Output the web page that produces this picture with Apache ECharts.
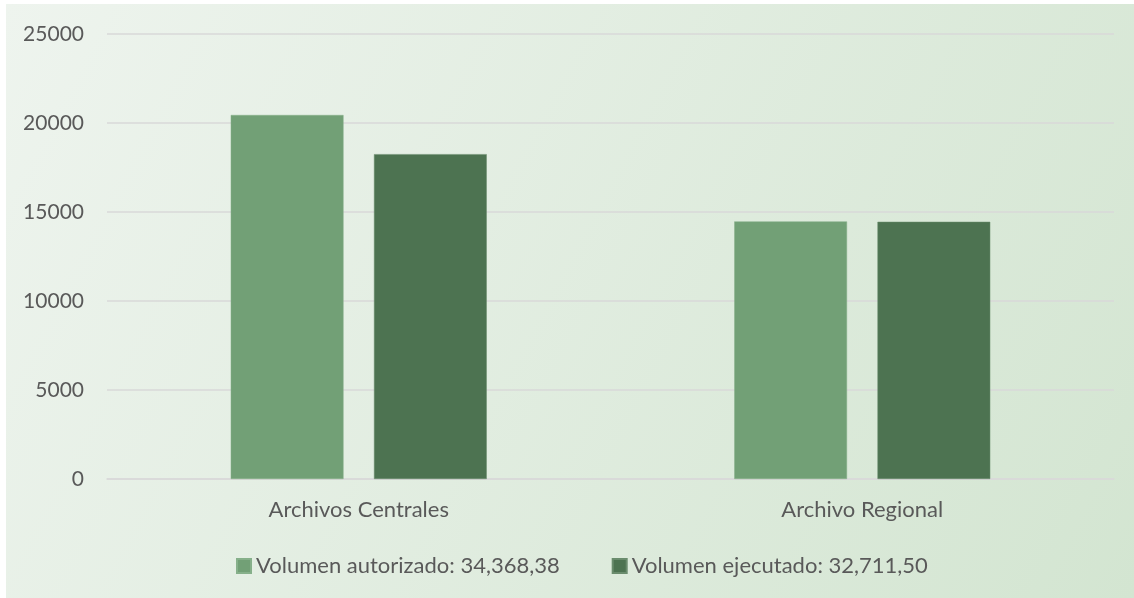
<!DOCTYPE html>
<html>
<head>
<meta charset="utf-8">
<script src="https://cdn.jsdelivr.net/npm/echarts@6/dist/echarts.min.js"></script>
<style>
  html, body { margin: 0; padding: 0; background: #fff; }
  #chart { width: 1134px; height: 598px; }
</style>
</head>
<body>
<div id="chart"></div>
<script>
const categories = ['Archivos Centrales', 'Archivo Regional']
const autorizado = [20450, 14470]
const ejecutado = [18250, 14450]
const seriesNames = ['Volumen autorizado: 34,368,38', 'Volumen ejecutado: 32,711,50']
const yTicks = [0, 5000, 10000, 15000, 20000, 25000]

const textFont = 'Lato'
const textColor = '#595959'

let chart = echarts.init(document.getElementById('chart'))
let option = {
  animation: false,
  graphic: [
    {
      type: 'rect',
      left: 6,
      top: 4,
      z: -10,
      shape: { width: 1128, height: 594 },
      style: {
        fill: new echarts.graphic.LinearGradient(0, 0, 1, 1, [
          { offset: 0, color: '#eef4ee' },
          { offset: 1, color: '#d3e5d1' }
        ])
      }
    }
  ],
  grid: {
    left: 107,
    right: 20,
    top: 34,
    bottom: 119,
    containLabel: false
  },
  legend: {
    left: 231,
    top: 550,
    icon: 'rect',
    itemWidth: 14,
    itemHeight: 14,
    itemGap: 52,
    textStyle: { color: textColor, fontFamily: textFont, fontSize: 22 }
  },
  xAxis: {
    type: 'category',
    data: categories,
    axisLine: { show: true, lineStyle: { color: '#d9d9d9', width: 1.5 } },
    axisTick: { show: false },
    axisLabel: { color: textColor, fontFamily: textFont, fontSize: 22, margin: 20 }
  },
  yAxis: {
    type: 'value',
    min: yTicks[0],
    max: yTicks[yTicks.length - 1],
    interval: yTicks[1] - yTicks[0],
    axisLine: { show: false },
    axisTick: { show: false },
    splitLine: { lineStyle: { color: '#d9d9d9', width: 1.5 } },
    axisLabel: {
      color: textColor,
      fontFamily: textFont,
      fontSize: 21,
      margin: 23,
      formatter: function (val) {
        return String(val)
      }
    }
  },
  series: [
    {
      name: seriesNames[0],
      type: 'bar',
      data: autorizado,
      barWidth: '22.4%',
      barGap: '27%',
      itemStyle: { color: '#72a076', borderColor: '#86b08a', borderWidth: 0.5 }
    },
    {
      name: seriesNames[1],
      type: 'bar',
      data: ejecutado,
      barWidth: '22.4%',
      itemStyle: { color: '#4d7351', borderColor: '#6a8c6d', borderWidth: 0.5 }
    }
  ]
}
chart.setOption(option)
</script>
</body>
</html>
